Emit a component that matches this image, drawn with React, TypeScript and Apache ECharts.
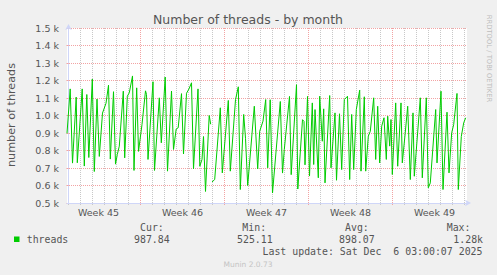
import React, { useEffect, useRef } from "react";
import * as echarts from "echarts";

// hours since Mon 3 Nov 00:00 (graph spans -3 .. 797 h)
const hours = [
  -3, 3.4, 8, 15.4, 17.6, 27.4, 31.6, 36.6, 40.6, 47.6,
  51.6, 57, 61.6, 68, 75, 80, 83.6, 90, 94, 97.6,
  101.6, 109.6, 112.4, 117.6, 121.6, 128, 131, 136.4, 140, 147,
  154, 156, 159, 169, 172, 181.6, 185.6, 193.4, 198, 206,
  210, 215.4, 219.4, 226, 230, 236, 241, 246, 250, 259,
  262.6, 267, 270, 274, 281.4, 284.4, 285.5, 287, 292.4, 303.6,
  307.6, 319.6, 323.6, 334, 339.6, 343.6, 350.4, 354, 358.4, 371.6,
  378.4, 382.4, 389, 394.4, 398.4, 403.4, 408, 423.6, 428, 431.6,
  442, 445.4, 456, 458.6, 468, 471, 473, 478, 482, 487.6,
  490.4, 493, 499.6, 502.4, 507.6, 510.4, 513, 522.4, 525, 533,
  536, 542, 546.4, 551.6, 558, 562.4, 566.4, 570.4, 575.6, 582.4,
  585, 591.6, 594.4, 599.6, 603.6, 610.4, 614.4, 618.4, 622.4, 626.4,
  631, 635.6, 638.4, 642.4, 645, 647.6, 654.4, 658.4, 665, 667.6,
  673.6, 678.4, 683.6, 689, 691.6, 703.6, 707.6, 715.6, 719.6, 723.6,
  734.4, 737, 745, 749, 757, 761, 766.4, 770.4, 777, 779.6,
  785.6, 790.4, 794.4,
];

const threads: (number | null)[] = [
  898, 1152, 728, 1105, 730, 1152, 711, 1120, 760, 1208,
  680, 1094, 766, 1014, 1070, 1173, 751, 1136, 722, 777,
  825, 1139, 758, 1110, 1130, 1226, 686, 1158, 795, 949,
  1141, 1120, 749, 1193, 686, 1101, 844, 1220, 682, 1140,
  806, 923, 930, 1125, 780, 1127, 1152, 1187, 696, 1152,
  710, 749, 880, 566, 1000, 950, null, 620, 634, 1044,
  672, 1086, 682, 1090, 1164, 577, 1006, 870, 600, 1053,
  695, 910, 968, 1091, 701, 1090, 557, 1080, 671, 806,
  1109, 662, 1176, 580, 976, 966, 718, 1109, 654, 1072,
  720, 1034, 644, 1110, 853, 1038, 615, 1114, 701, 1015,
  630, 1010, 691, 1091, 1110, 634, 1006, 691, 1034, 1145,
  682, 1107, 682, 882, 910, 1101, 749, 1053, 729, 939,
  987, 749, 996, 825, 977, 663, 1072, 710, 1072, 729,
  905, 1053, 634, 1015, 653, 1101, 644, 1101, 587, 615,
  1034, 729, 1139, 577, 1019, 672, 901, 949, 1126, 577,
  880, 958, 987,
];

const weekLabels = ["Week 45", "Week 46", "Week 47", "Week 48", "Week 49"];
const weekCenters = [60, 228, 396, 564, 732];
const weekLines = [144, 312, 480, 648];
const dayLines = Array.from({ length: 34 }, (_, i) => i * 24);

const statLabels = ["Cur:", "Min:", "Avg:", "Max:"];
const statValues = ["987.84", "525.11", "898.07", "1.28k"];
const seriesName = "threads";
const lastUpdate = "Last update: Sat Dec  6 03:00:07 2025";

const X_MIN = -3;
const X_MAX = 797;

const FONT = "DejaVu Sans";
const MONO = "DejaVu Sans Mono";
const TXT = "#555555";
const AXIS = "#CFD6F8";
const MGRID = "#f2a3a3";
const GRID = "#c8c8c8";

export default function App() {
  const ref = useRef<HTMLDivElement>(null);

  useEffect(() => {
    document.body.style.margin = "0";
    const chart = echarts.init(ref.current!, undefined, { renderer: "svg" });

    const statHeaderX = [140, 242.3, 345, 446.7];
    const statValueX = [134, 237, 339, 453.3];

    const graphics: any[] = [
      {
        type: "text",
        x: 248,
        y: 19,
        style: {
          text: "Number of threads - by month",
          font: `12.5px '${FONT}'`,
          fill: TXT,
          align: "center",
          verticalAlign: "middle",
        },
      },
      {
        type: "text",
        x: 11,
        y: 115,
        rotation: Math.PI / 2,
        style: {
          text: "number of threads",
          font: `11.2px '${FONT}'`,
          fill: TXT,
          align: "center",
          verticalAlign: "middle",
        },
      },
      {
        type: "text",
        x: 488.5,
        y: 58.5,
        rotation: -Math.PI / 2,
        style: {
          text: "RRDTOOL / TOBI OETIKER",
          font: `6.8px '${FONT}'`,
          fill: "#bdbdbd",
          align: "center",
          verticalAlign: "middle",
        },
      },
      {
        type: "rect",
        shape: { x: 14, y: 236.5, width: 5.5, height: 5.5 },
        style: { fill: "#00cc00" },
      },
      {
        type: "text",
        x: 26.7,
        y: 239.5,
        style: {
          text: seriesName,
          font: `9.9px '${MONO}'`,
          fill: TXT,
          verticalAlign: "middle",
        },
      },
      {
        type: "text",
        x: 482.5,
        y: 251.5,
        style: {
          text: lastUpdate,
          font: `9.9px '${MONO}'`,
          fill: TXT,
          align: "right",
          verticalAlign: "middle",
        },
      },
      {
        type: "text",
        x: 248,
        y: 264.5,
        style: {
          text: "Munin 2.0.73",
          font: `7.5px '${FONT}'`,
          fill: "#c4c4c4",
          align: "center",
          verticalAlign: "middle",
        },
      },
    ];
    statLabels.forEach((s, i) => {
      graphics.push({
        type: "text",
        x: statHeaderX[i],
        y: 227.7,
        style: { text: s, font: `9.9px '${MONO}'`, fill: TXT, verticalAlign: "middle" },
      });
      graphics.push({
        type: "text",
        x: statValueX[i],
        y: 239.5,
        style: { text: statValues[i], font: `9.9px '${MONO}'`, fill: TXT, verticalAlign: "middle" },
      });
    });

    const hiddenX = (custom: number[], color: string, z: number) => ({
      type: "value",
      min: X_MIN,
      max: X_MAX,
      position: "bottom",
      axisLine: { show: false },
      axisLabel: { show: false },
      axisTick: { show: true, customValues: custom, length: 2, lineStyle: { color } },
      splitLine: {
        show: true,
        lineStyle: { color, type: [1, 1], width: 1 },
      },
      z,
    });

    chart.setOption({
      animation: false,
      backgroundColor: "#f0f0f0",
      grid: { left: 67, top: 28, width: 400, height: 175, containLabel: false, backgroundColor: "#ffffff", show: true, borderWidth: 0 },
      xAxis: [
        {
          type: "value",
          min: X_MIN,
          max: X_MAX,
          position: "bottom",
          axisLine: {
            show: true,
            lineStyle: { color: AXIS, width: 1 },
            symbol: ["none", "arrow"],
            symbolSize: [5, 6],
            symbolOffset: [0, 4],
          },
          axisTick: { show: false },
          splitLine: { show: false },
          axisLabel: {
            customValues: weekCenters,
            formatter: (v: number) => {
              const i = weekCenters.indexOf(v);
              return i >= 0 ? weekLabels[i] : "";
            },
            fontFamily: FONT,
            fontSize: 9.5,
            color: TXT,
            margin: 4,
          },
          z: 5,
        },
        hiddenX(dayLines, GRID, 1),
        hiddenX(weekLines, MGRID, 2),
      ],
      yAxis: {
        type: "value",
        min: 500,
        max: 1500,
        interval: 100,
        axisLine: {
          show: true,
          lineStyle: { color: AXIS, width: 1 },
          symbol: ["none", "arrow"],
          symbolSize: [5, 6],
          symbolOffset: [0, 4],
        },
        axisTick: { show: true, length: 2, lineStyle: { color: MGRID } },
        splitLine: { show: true, lineStyle: { color: MGRID, type: [1, 1], width: 1 } },
        axisLabel: {
          formatter: (v: number) => (v / 1000).toFixed(1) + " k",
          fontFamily: FONT,
          fontSize: 9.5,
          color: TXT,
          margin: 8,
        },
        z: 3,
      },
      series: [
        {
          name: seriesName,
          type: "line",
          xAxisIndex: 0,
          data: hours.map((h, i) => [h, threads[i]]),
          showSymbol: false,
          connectNulls: false,
          lineStyle: { color: "#00cc00", width: 1 },
          itemStyle: { color: "#00cc00" },
          z: 10,
        },
      ],
      graphic: graphics,
    });

    return () => chart.dispose();
  }, []);

  return <div ref={ref} style={{ width: 497, height: 275 }} />;
}
